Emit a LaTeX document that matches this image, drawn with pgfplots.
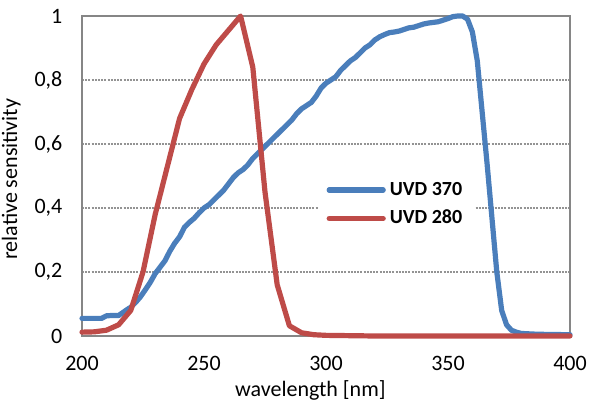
\documentclass[border=0pt]{standalone}
\usepackage{fontspec}
\setmainfont{Carlito}
\usepackage{pgfplots}
\pgfplotsset{compat=1.18}
\definecolor{uvdblue}{HTML}{4A7EBB}
\definecolor{uvdred}{HTML}{BE4B48}
\definecolor{frame}{HTML}{868686}

\begin{document}
\begin{tikzpicture}[font=\fontsize{11}{13}\selectfont]
\begin{axis}[
  name=ax,
  scale only axis,
  width=244pt, height=160pt,
  xmin=200, xmax=400, ymin=0, ymax=1,
  xtick={200,250,300,350,400},
  xticklabels={200,250,300,350,400},
  ytick={0,0.2,0.4,0.6,0.8,1},
  yticklabels={0,{0,2},{0,4},{0,6},{0,8},1},
  major tick length=0pt,
  axis line style={draw=frame, line width=1pt},
  ymajorgrids,
  grid style={draw=gray!85, line width=0.6pt, dash pattern=on 1pt off 0.6pt},
  yticklabel style={xshift=-6.3pt},
  xticklabel style={yshift=-6.6pt},
  xlabel={wavelength [nm]},
  ylabel={relative sensitivity},
  xlabel style={at={(axis description cs:0.468,-0.17)}, anchor=center},
  ylabel style={at={(axis description cs:-0.145,0.49)}, anchor=center},
  clip=false,
  legend style={draw=none, fill=white, at={(rel axis cs:0.484,0.52)},
    anchor=north west, font=\bfseries, row sep=2pt,
    inner xsep=4pt, inner ysep=4pt},
  legend cell align=left,
  legend image code/.code={\draw[#1] (0pt,0pt) -- (27pt,0pt);},
  every axis plot/.append style={line width=2.6pt, line join=round, line cap=round},
]
\addplot[uvdblue] coordinates {
(200,0.055) (204,0.055) (208,0.055) (210,0.063) (212,0.064) (215,0.064)
(218,0.08) (220,0.09) (222,0.105) (224,0.123) (226,0.145) (228,0.168)
(230,0.195) (232,0.215) (234,0.235) (236,0.265) (238,0.29) (240,0.31)
(242,0.34) (244,0.355) (246,0.368) (248,0.385) (250,0.4) (252,0.41)
(254,0.425) (256,0.44) (258,0.455) (260,0.475) (262,0.495) (264,0.51)
(266,0.52) (268,0.535) (270,0.555) (272,0.57) (274,0.585) (276,0.6)
(278,0.615) (280,0.63) (282,0.645) (284,0.66) (286,0.675) (288,0.695)
(290,0.71) (292,0.72) (294,0.73) (296,0.75) (298,0.775) (300,0.79)
(302,0.8) (304,0.81) (306,0.83) (308,0.845) (310,0.86) (312,0.87)
(314,0.885) (316,0.9) (318,0.91) (320,0.925) (322,0.935) (324,0.942)
(326,0.948) (328,0.95) (330,0.953) (332,0.958) (334,0.963) (336,0.965)
(338,0.97) (340,0.975) (342,0.978) (344,0.98) (346,0.982) (348,0.987)
(350,0.992) (352,0.998) (354,1.0) (356,1.0) (358,0.99) (360,0.95)
(362,0.86) (364,0.7) (366,0.54) (368,0.37) (370,0.2) (372,0.08)
(374,0.035) (376,0.018) (378,0.012) (380,0.008) (385,0.006) (390,0.005)
(400,0.004)
};
\addlegendentry{UVD 370}
\addplot[uvdred] coordinates {
(200,0.012) (205,0.013) (210,0.018) (215,0.035) (220,0.08) (225,0.2)
(230,0.38) (235,0.53) (240,0.68) (245,0.77) (250,0.85) (255,0.91)
(260,0.955) (265,1.0) (270,0.84) (275,0.45) (280,0.16) (285,0.032)
(290,0.01) (295,0.004) (300,0.002) (310,0.001) (320,0) (340,0)
(360,0) (380,0) (400,0)
};
\addlegendentry{UVD 280}
\end{axis}
\pgfresetboundingbox
\path ([xshift=-41pt,yshift=-35pt]ax.south west) rectangle ([xshift=9.5pt,yshift=8pt]ax.north east);
\end{tikzpicture}
\end{document}
